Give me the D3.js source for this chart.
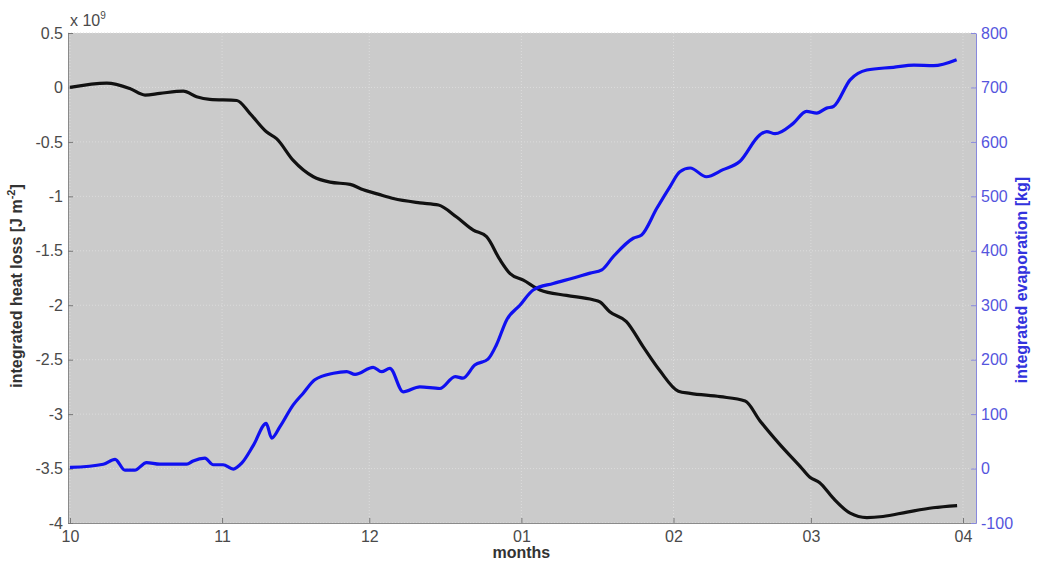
<!DOCTYPE html>
<html>
<head>
<meta charset="utf-8">
<script src="https://cdn.jsdelivr.net/npm/d3@7"></script>
<style>
    body { margin: 0; background: #fff; }
    svg text { font-family: "Liberation Sans", Arial, sans-serif; }
</style>
</head>
<body>
<div id="chart"></div>
<script>

//==================================//
// Data (days since 1 Oct)
//

const monthDays   = [0, 31, 61, 92, 123, 151, 182]
const monthLabels = ['10', '11', '12', '01', '02', '03', '04']

const heatTicks = [0.5, 0, -0.5, -1, -1.5, -2, -2.5, -3, -3.5, -4]
const evapTicks = [800, 700, 600, 500, 400, 300, 200, 100, 0, -100]

// integrated heat loss, x 10^9 J m^-2
const heatDays = [0, 7.5, 12.2, 15.3, 18.3, 23.1, 25.8, 28.5, 34, 36.7, 40.1, 42.1, 45.5, 49.6, 53, 57.1,
    59.8, 62.8, 65.9, 71.3, 75.1, 78.8, 82.2, 84.9, 87.6, 89.7, 92.4, 95.8, 101.2, 106.6, 108, 110,
    113.4, 116.8, 120.2, 124, 126.4, 132.5, 137.6, 140.6, 144.7, 148.8, 150.8, 152.8, 155.5, 159,
    162.4, 165.7, 170.6, 175.9, 180.8]
const heatVals = [0, 0.04, -0.01, -0.07, -0.055, -0.033, -0.085, -0.11, -0.12, -0.24, -0.41, -0.47, -0.67, -0.82, -0.87, -0.89,
    -0.94, -0.98, -1.02, -1.06, -1.08, -1.19, -1.31, -1.37, -1.58, -1.71, -1.77, -1.86, -1.91, -1.95, -1.97, -2.06,
    -2.15, -2.38, -2.6, -2.79, -2.81, -2.84, -2.88, -3.06, -3.28, -3.48, -3.58, -3.63, -3.77, -3.91,
    -3.95, -3.94, -3.9, -3.86, -3.84]

// integrated evaporation, kg
const evapDays = [0, 6.8, 9.2, 11.2, 13.2, 15.6, 18.3, 23.8, 25.1, 27.5, 29.2, 31.2, 33.3, 35, 37.4, 40, 41.1,
    42.8, 45.5, 47.5, 49.9, 53.7, 56.4, 58.1, 61.8, 63.5, 65.2, 67.9, 71.3, 75.4, 78.5, 80.1, 82.5,
    85.2, 86.9, 89, 91.7, 94.4, 98.5, 102.6, 106, 108.4, 110.7, 114.8, 116.5, 119.6, 122.3, 124.3,
    126.4, 129.7, 133.1, 136.5, 140.6, 142, 143.7, 147.4, 150.1, 152.2, 154.2, 155.6, 159, 162.4,
    167.8, 172, 176, 180.7]
const evapVals = [2, 8, 17, -3, -3, 11, 8, 8, 14, 19, 7, 7, -1, 10, 43, 83, 56,
    77, 117, 138, 163, 175, 178, 173, 186, 178, 184, 141, 150, 147, 169, 166, 190,
    201, 227, 273, 300, 328, 340, 350, 359, 365, 389, 423, 429, 478, 518, 545,
    552, 536, 549, 564, 613, 619, 615, 634, 656, 653, 662, 665, 714, 732,
    737, 741, 740, 751]


//==================================//
// Layout
//

let svgw = 1037, svgh = 564
let plotx = 68, ploty = 33, plotw = 908, ploth = 490

let svg = d3.select('#chart').append('svg')
    .attr('width', svgw)
    .attr('height', svgh)

let xScale = d3.scaleLinear().domain([-0.4, 184.65]).range([plotx, plotx + plotw])
let yHeat  = d3.scaleLinear().domain([-4, 0.5]).range([ploty + ploth, ploty])
let yEvap  = d3.scaleLinear().domain([-100, 800]).range([ploty + ploth, ploty])

//====[ background + grid ]====//

svg.append('rect')
    .attr('x', plotx).attr('y', ploty)
    .attr('width', plotw).attr('height', ploth)
    .attr('fill', '#cbcbcb')

svg.append('g').selectAll('line')
    .data(monthDays)
    .enter().append('line')
    .attr('x1', d => xScale(d)).attr('x2', d => xScale(d))
    .attr('y1', ploty).attr('y2', ploty + ploth)
    .attr('stroke', '#dcdcdc').attr('stroke-width', 1)
    .attr('stroke-dasharray', '1,2')

svg.append('g').selectAll('line')
    .data(heatTicks)
    .enter().append('line')
    .attr('x1', plotx).attr('x2', plotx + plotw)
    .attr('y1', d => yHeat(d)).attr('y2', d => yHeat(d))
    .attr('stroke', '#dcdcdc').attr('stroke-width', 1)
    .attr('stroke-dasharray', '1,2')

//====[ axes ]====//

let xAxis = d3.axisBottom(xScale)
    .tickValues(monthDays)
    .tickFormat((d, i) => monthLabels[i])
    .tickSizeInner(-5).tickSizeOuter(0).tickPadding(8)

let gx = svg.append('g')
    .attr('transform', 'translate(0,' + (ploty + ploth) + ')')
    .call(xAxis)
gx.select('.domain').attr('stroke', '#8a8a8a')
gx.selectAll('.tick line').attr('stroke', '#777')
gx.selectAll('text').attr('fill', '#4a4a4a').attr('font-size', 16)

let yAxisL = d3.axisLeft(yHeat)
    .tickValues(heatTicks)
    .tickSizeInner(-5).tickSizeOuter(0).tickPadding(5)

let gl = svg.append('g')
    .attr('transform', 'translate(' + plotx + ',0)')
    .call(yAxisL)
gl.select('.domain').attr('stroke', '#8a8a8a')
gl.selectAll('.tick line').attr('stroke', '#777')
gl.selectAll('text').attr('fill', '#4a4a4a').attr('font-size', 16)
    .text(d => String(d))

let yAxisR = d3.axisRight(yEvap)
    .tickValues(evapTicks)
    .tickSizeInner(-5).tickSizeOuter(0).tickPadding(5)

let gr = svg.append('g')
    .attr('transform', 'translate(' + (plotx + plotw) + ',0)')
    .call(yAxisR)
gr.select('.domain').attr('stroke', '#8888dd')
gr.selectAll('.tick line').attr('stroke', '#8888dd')
gr.selectAll('text').attr('fill', '#5555dd').attr('font-size', 16)
    .text(d => String(d))

//====[ labels ]====//

svg.append('text')
    .attr('x', plotx + 2).attr('y', 26)
    .attr('font-size', 16).attr('fill', '#4a4a4a')
    .text('x 10')
    .append('tspan').attr('dy', -7).attr('font-size', 10).text('9')

svg.append('text')
    .attr('x', xScale(92)).attr('y', 558)
    .attr('text-anchor', 'middle')
    .attr('font-size', 16).attr('font-weight', 'bold').attr('fill', '#333')
    .text('months')

let ylab = svg.append('text')
    .attr('transform', 'translate(22,' + (ploty + ploth / 2 + 8) + ') rotate(-90)')
    .attr('text-anchor', 'middle')
    .attr('font-size', 16).attr('font-weight', 'bold').attr('fill', '#333')
ylab.append('tspan').text('integrated heat loss [J m')
ylab.append('tspan').attr('dy', -7).attr('font-size', 11).text('-2')
ylab.append('tspan').attr('dy', 7).text(']')

svg.append('text')
    .attr('transform', 'translate(1027,' + (ploty + ploth / 2 + 2) + ') rotate(-90)')
    .attr('text-anchor', 'middle')
    .attr('font-size', 16).attr('font-weight', 'bold').attr('fill', '#3333dd')
    .text('integrated evaporation [kg]')

//====[ curves ]====//

let heatLine = d3.line()
    .x(d => xScale(d[0]))
    .y(d => yHeat(d[1]))
    .curve(d3.curveMonotoneX)

let evapLine = d3.line()
    .x(d => xScale(d[0]))
    .y(d => yEvap(d[1]))
    .curve(d3.curveMonotoneX)

svg.append('path')
    .datum(d3.zip(heatDays, heatVals))
    .attr('d', heatLine)
    .attr('fill', 'none')
    .attr('stroke', '#111')
    .attr('stroke-width', 3.2)
    .attr('stroke-linejoin', 'round')

svg.append('path')
    .datum(d3.zip(evapDays, evapVals))
    .attr('d', evapLine)
    .attr('fill', 'none')
    .attr('stroke', '#1010f0')
    .attr('stroke-width', 3.2)
    .attr('stroke-linejoin', 'round')

</script>
</body>
</html>
